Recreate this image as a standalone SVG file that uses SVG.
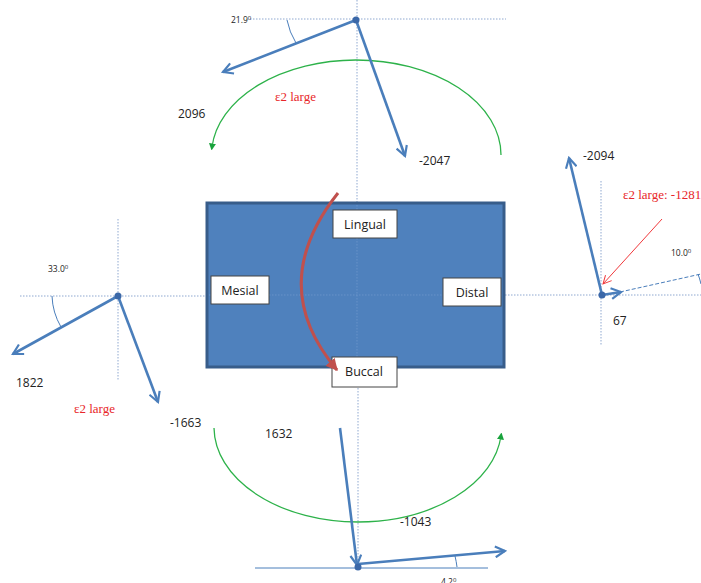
<svg xmlns="http://www.w3.org/2000/svg" width="701" height="583" viewBox="0 0 701 583">
  <style>
    .axis { stroke: #8FA8D0; stroke-width: 1; stroke-dasharray: 1.5 1.5; fill: none; }
    .vec { stroke: #4A7EBB; stroke-width: 2.6; fill: none; marker-end: url(#blueHead); }
    .ang { stroke: #4A7EBB; stroke-width: 1; fill: none; }
    .rot { stroke: #2DB24A; stroke-width: 1.3; fill: none; }
    .dot { fill: #3B68A8; }
    .num { font-family: "Open Sans", "Liberation Sans", sans-serif; font-size: 12px; fill: #222; }
    .deg { font-family: "Open Sans", "Liberation Sans", sans-serif; font-size: 8.5px; fill: #222; }
    .eps { font-family: "Liberation Serif", serif; font-size: 13px; fill: #E8262A; }
    .box { fill: #fff; stroke: #444; stroke-width: 1; }
    .lbl { font-family: "Open Sans", "Liberation Sans", sans-serif; font-size: 12.5px; fill: #222; text-anchor: middle; }
  </style>
  <defs>
    <marker id="blueHead" viewBox="0 0 12 12" refX="10" refY="6" markerWidth="5" markerHeight="5" orient="auto" markerUnits="strokeWidth">
      <polyline points="1,1 10,6 1,11" fill="none" stroke="#4A7EBB" stroke-width="2"/>
    </marker>
    <marker id="greenHead" viewBox="0 0 10 10" refX="5" refY="5" markerWidth="7" markerHeight="7" orient="auto" markerUnits="userSpaceOnUse">
      <path d="M0,0 L10,5 L0,10 Z" fill="#19A33C"/>
    </marker>
    <marker id="redHead" viewBox="0 0 10 10" refX="9" refY="5" markerWidth="4" markerHeight="4" orient="auto" markerUnits="strokeWidth">
      <path d="M0,0 L10,5 L0,10 Z" fill="#C0504D"/>
    </marker>
    <marker id="thinRed" viewBox="0 0 12 12" refX="11" refY="6" markerWidth="10" markerHeight="10" orient="auto" markerUnits="userSpaceOnUse">
      <polyline points="1,1 11,6 1,11" fill="none" stroke="#F0393C" stroke-width="1.2"/>
    </marker>
  </defs>

  <!-- reference axes through each load point -->
  <g id="axes">
    <line class="axis" x1="250" y1="19" x2="506" y2="19"/>
    <line class="axis" x1="357" y1="0" x2="357" y2="203"/>
    <line class="axis" x1="20" y1="296" x2="207" y2="296"/>
    <line class="axis" x1="118" y1="219" x2="118" y2="380"/>
    <line class="axis" x1="505" y1="295" x2="701" y2="295"/>
    <line class="axis" x1="601" y1="181" x2="601" y2="345"/>
    <line class="axis" x1="358" y1="388" x2="358" y2="560"/>
    <line stroke="#4A7EBB" stroke-width="1" x1="255" y1="568" x2="488" y2="568"/>
  </g>

  <!-- tooth outline -->
  <g id="tooth">
    <rect x="207" y="203" width="297" height="164" fill="#4F81BD" stroke="#385D8A" stroke-width="3"/>
    <line x1="357" y1="205" x2="357" y2="365" stroke="#6E98CC" stroke-width="0.8" stroke-dasharray="1.5 1.5"/>
    <line x1="209" y1="295" x2="502" y2="295" stroke="#6E98CC" stroke-width="0.8" stroke-dasharray="1.5 1.5"/>
  </g>

  <g id="connectors">
    <!-- rotation arcs -->
    <path class="rot" d="M501,155 A145,95 0 0 0 356,60 A145,95 0 0 0 212,147" marker-end="url(#greenHead)"/>
    <path class="rot" d="M214,428 A144,95 0 0 0 358,522 A144,95 0 0 0 501,436" marker-end="url(#greenHead)"/>

    <!-- top load point -->
    <line class="vec" x1="356" y1="20" x2="223" y2="72"/>
    <line class="vec" x1="356" y1="20" x2="405" y2="156"/>
    <path class="ang" d="M287,20 A69,69 0 0 0 296,43"/>

    <!-- left load point -->
    <line class="vec" x1="118" y1="296" x2="13" y2="354"/>
    <line class="vec" x1="118" y1="296" x2="158" y2="402"/>
    <path class="ang" d="M52,296 A66,66 0 0 0 61,327"/>

    <!-- right load point -->
    <line class="vec" x1="602" y1="295" x2="569" y2="158"/>
    <line class="vec" x1="602" y1="295" x2="621" y2="292"/>
    <line x1="662" y1="219" x2="603" y2="284" stroke="#F0393C" stroke-width="1" marker-end="url(#thinRed)"/>
    <line x1="620" y1="292" x2="701" y2="274" stroke="#4A7EBB" stroke-width="1" stroke-dasharray="4 2"/>
    <path class="ang" d="M698,274 A90,90 0 0 1 701,284"/>

    <!-- bottom load point -->
    <line class="vec" x1="340" y1="428" x2="357" y2="565"/>
    <line class="vec" x1="358" y1="564" x2="505" y2="551"/>
    <path class="ang" d="M455,556 A98,98 0 0 1 457,567"/>
  </g>

  <g id="load-top">
    <circle class="dot" cx="356" cy="20" r="3.5"/>
    <text class="deg" x="231" y="23">21.9<tspan font-size="6" dy="-3">0</tspan></text>
    <text class="num" x="178" y="118">2096</text>
    <text class="num" x="419" y="165">-2047</text>
    <text class="eps" x="275" y="101">ε2 large</text>
  </g>

  <g id="load-left">
    <circle class="dot" cx="118" cy="296" r="3.5"/>
    <text class="deg" x="48" y="272">33.0<tspan font-size="6" dy="-3">0</tspan></text>
    <text class="num" x="16" y="387">1822</text>
    <text class="eps" x="74" y="413">ε2 large</text>
    <text class="num" x="170" y="427">-1663</text>
  </g>

  <g id="load-right">
    <circle class="dot" cx="602" cy="295" r="3.5"/>
    <text class="num" x="583" y="160">-2094</text>
    <text class="eps" x="623" y="199">ε2 large: -1281</text>
    <text class="deg" x="671" y="256">10.0<tspan font-size="6" dy="-3">0</tspan></text>
    <text class="num" x="613" y="325">67</text>
  </g>

  <g id="load-bottom">
    <circle class="dot" cx="358" cy="567" r="3.5"/>
    <text class="num" x="265" y="438">1632</text>
    <text class="num" x="400" y="526">-1043</text>
    <text class="deg" x="441" y="585">4.2<tspan font-size="6" dy="-3">0</tspan></text>
  </g>

  <g id="lingual">
    <rect class="box" x="333" y="210" width="64" height="28"/>
    <text class="lbl" x="365" y="229">Lingual</text>
  </g>
  <g id="mesial">
    <rect class="box" x="211" y="276" width="58" height="28"/>
    <text class="lbl" x="240" y="295">Mesial</text>
  </g>
  <g id="distal">
    <rect class="box" x="443" y="278" width="58" height="28"/>
    <text class="lbl" x="472" y="297">Distal</text>
  </g>
  <g id="buccal">
    <rect class="box" x="332" y="357" width="65" height="30"/>
    <text class="lbl" x="364" y="376">Buccal</text>
  </g>

  <!-- lingual-to-buccal rotation, drawn over the label boxes -->
  <g id="rotation-connector">
    <path d="M338,193 Q265,285 337,370" fill="none" stroke="#C0504D" stroke-width="3" marker-end="url(#redHead)"/>
  </g>
</svg>
